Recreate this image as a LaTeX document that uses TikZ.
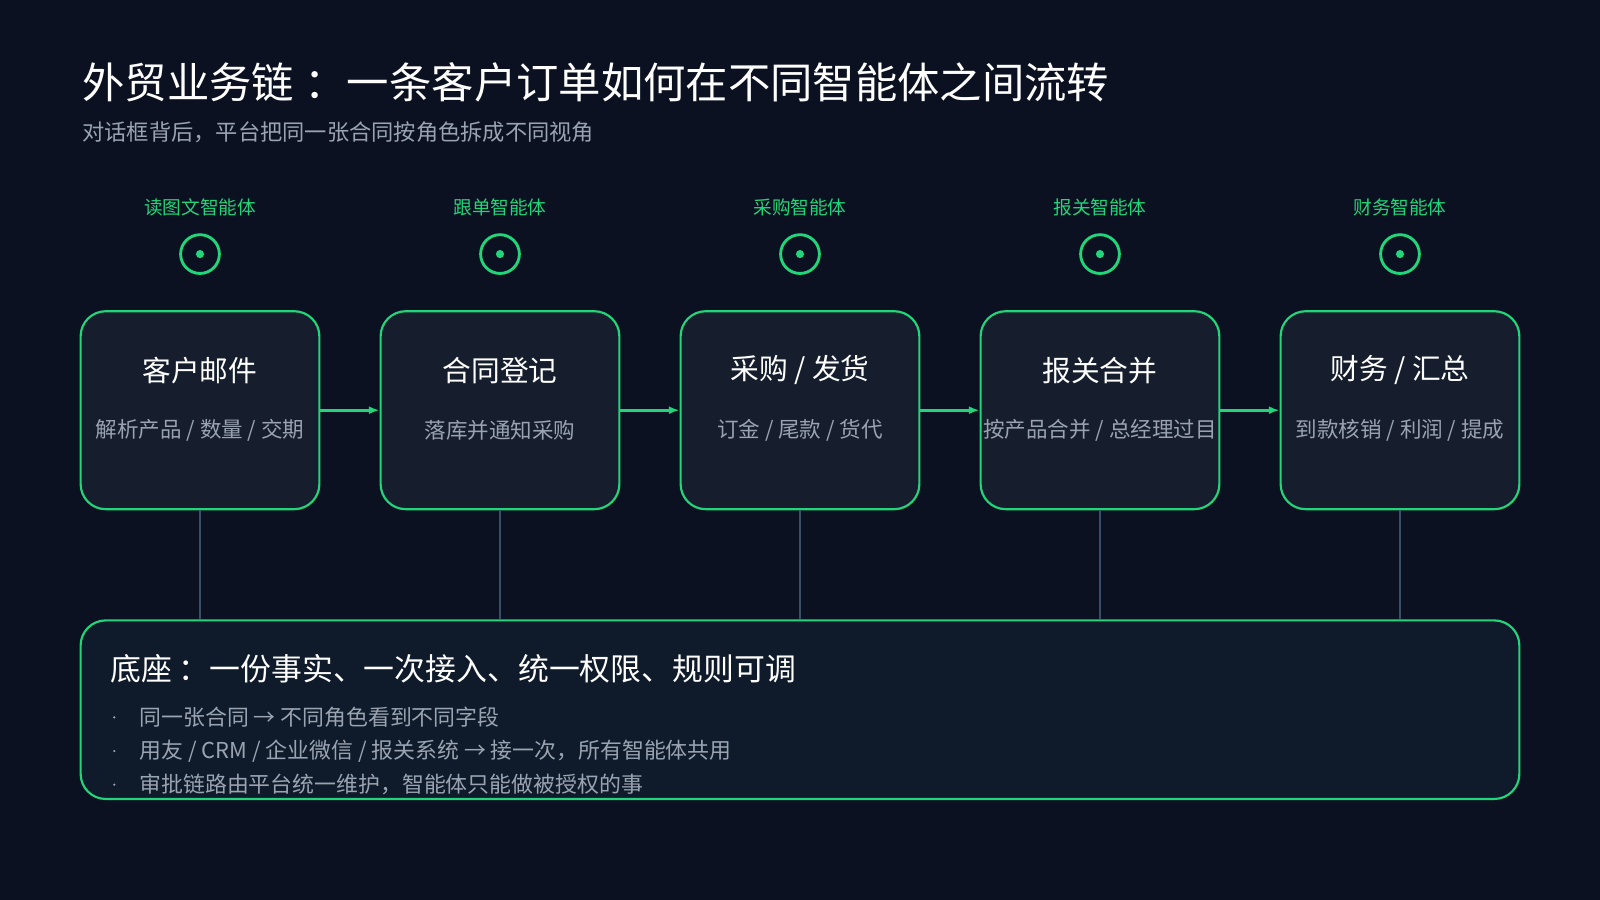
\documentclass[tikz,border=0pt]{standalone}
\usepackage{fontspec}
\setmainfont{Noto Sans CJK SC}
\usetikzlibrary{positioning, arrows.meta}
\definecolor{colorBg}{HTML}{0B1120}
\definecolor{colorCard}{HTML}{161E2E}
\definecolor{colorBase}{HTML}{0F1B2A}
\definecolor{colorAccent}{HTML}{22D47A}
\definecolor{colorMuted}{HTML}{9AA3B2}
\definecolor{colorLink}{HTML}{3A4E66}
\newlength{\pgfxx}\setlength{\pgfxx}{0.01cm}
\tikzset{
  stage/.style={draw=colorAccent, fill=colorCard, rounded corners=7pt, line width=0.6pt, minimum width=234\pgfxx, minimum height=194\pgfxx},
  agent/.style={text=colorAccent, font=\fontsize{5.2}{6}\selectfont},
  flow/.style={-{Latex[length=3pt]}, colorAccent, line width=0.9pt},
  link/.style={colorLink, line width=0.5pt},
}
\begin{document}
\begin{tikzpicture}[x=0.01cm, y=-0.01cm]
\fill[colorBg] (0,0) rectangle (1568,882);
\useasboundingbox (0,0) rectangle (1568,882);
% title
\node[anchor=west, text=white, font=\fontsize{11.8}{13}\selectfont, inner sep=0pt] (title) at (80,81) {外贸业务链\hspace{0.25em}：一条客户订单如何在不同智能体之间流转};
\node[anchor=west, text=colorMuted, font=\fontsize{6.2}{7}\selectfont, inner sep=0pt] (sub) at (80,130) {对话框背后，平台把同一张合同按角色拆成不同视角};
% stages
\foreach \i/\x/\a/\t/\s in {1/196/读图文智能体/客户邮件/{解析产品 / 数量 / 交期},
  2/490/跟单智能体/合同登记/落库并通知采购,
  3/784/采购智能体/{采购 / 发货}/{订金 / 尾款 / 货代},
  4/1078/报关智能体/报关合并/{按产品合并 / 总经理过目},
  5/1372/财务智能体/{财务 / 汇总}/{到款核销 / 利润 / 提成}}{
  \node[agent] (a\i) at (\x,203) {\a};
  \node[circle, draw=colorAccent, line width=0.8pt, minimum size=38\pgfxx, inner sep=0pt] (c\i) at (\x,249) {};
  \fill[colorAccent] (c\i.center) circle (4);
  \node[stage] (s\i) at (\x,402) {};
  \node[text=white, font=\fontsize{8}{9}\selectfont] (t\i) at (\x,363) {\t};
  \node[text=colorMuted, font=\fontsize{6}{7}\selectfont] (d\i) at (\x,422) {\s};
}
\foreach \i/\j in {1/2,2/3,3/4,4/5}
  \draw[flow] (s\i.east) -- (s\j.west);
% base
\node[draw=colorAccent, fill=colorBase, rounded corners=7pt, line width=0.6pt, minimum width=1410\pgfxx, minimum height=175\pgfxx] (base) at (784,695.5) {};
\foreach \i in {1,...,5}
  \draw[link] (s\i.south) -- (s\i.south |- base.north);
\node[anchor=west, text=white, font=\fontsize{8.6}{10}\selectfont, inner sep=0pt] (head) at (108,655) {底座\hspace{0.2em}：一份事实、一次接入、统一权限、规则可调};
\foreach \k/\y/\b in {1/703/{同一张合同 → 不同角色看到不同字段},
  2/736/{用友 / CRM / 企业微信 / 报关系统 → 接一次，所有智能体共用},
  3/769/{审批链路由平台统一维护，智能体只能做被授权的事}}{
  \fill[colorMuted] (112,\y) circle (1.2);
  \node[anchor=west, text=colorMuted, font=\fontsize{6.1}{7}\selectfont, inner sep=0pt] (b\k) at (136,\y) {\b};
}
\end{tikzpicture}
\end{document}
